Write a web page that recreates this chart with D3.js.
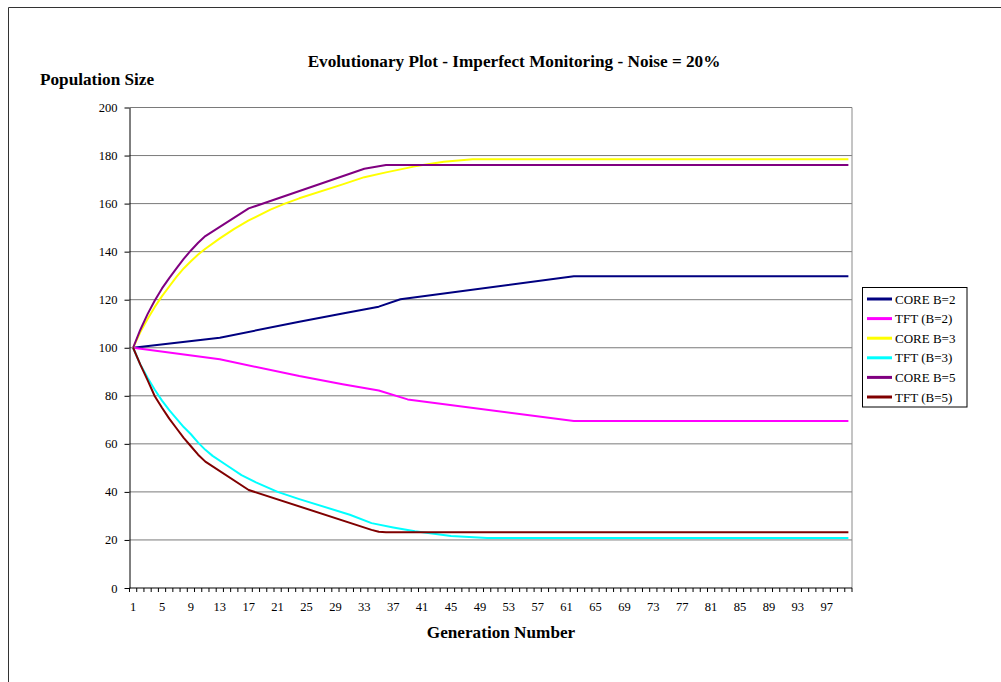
<!DOCTYPE html>
<html>
<head>
<meta charset="utf-8">
<script src="https://cdn.jsdelivr.net/npm/d3@7"></script>
<style>
  body { margin: 0; background: #fff; }
  text { font-family: "Liberation Serif", "Times New Roman", serif; fill: #000; }
</style>
</head>
<body>
<div id="chart"></div>
<script>
/* Evolutionary plot: population size per generation, imperfect monitoring, noise 20% */

const generations = d3.range(1, 101);               // category axis 1..100
const xTickLabels = d3.range(1, 101, 4);            // 1, 5, 9 ... 97
const yTicks = d3.range(0, 201, 20);

const seriesNames = ["CORE B=2", "TFT (B=2)", "CORE B=3", "TFT (B=3)", "CORE B=5", "TFT (B=5)"];
const seriesColors = ["#000080", "#ff00ff", "#ffff00", "#00ffff", "#800080", "#800000"];

// [generation, population]
const coreB2 = [[1,100],[13,104.2],[24,110.8],[30,114.3],[35,117.1],[38,120.2],[62,129.8],[100,129.8]];
const tftB2  = [[1,100],[13,95.2],[24,88.2],[30,84.8],[35,82.2],[39,78.5],[62,69.5],[100,69.5]];
const coreB3 = [[1,100],[2,106.5],[3,112],[4,117],[5,121.5],[6,125.5],[7,129.5],[8,133],[9,136],[10,138.8],
                [11,141.2],[13,145.5],[15,149.5],[17,153],[20,157.5],[22,160],[24,162.2],[30,168],[33,171],
                [36,173],[40,175.5],[44,177.4],[48,178.5],[100,178.5]];
const tftB3  = [[1,100],[2,93],[3,87.5],[4,82.5],[5,78],[6,74],[7,70.5],[8,67],[9,64],[10,60.5],[11,57.5],
                [12,55],[14,51],[16,47],[18,44],[21,40],[24,37],[31,30.5],[34,27],[37,25.2],[40,23.6],
                [45,21.6],[50,20.8],[100,20.8]];
const coreB5 = [[1,100],[2,107.5],[3,114],[4,119.7],[5,124.7],[6,129],[7,133],[8,137],[9,140.5],[10,143.7],
                [11,146.5],[17,158],[33,174.5],[36,176.1],[100,176.1]];
const tftB5  = [[1,100],[2,93],[3,86.5],[4,79.8],[5,75],[6,70.5],[7,66.5],[8,62.5],[9,59],[10,55.5],
                [11,52.6],[17,40.8],[34,24.2],[35,23.4],[36,23.2],[100,23.2]];

const seriesData = [coreB2, tftB2, coreB3, tftB3, coreB5, tftB5];

const width = 1001, height = 682,
    margin = ({ top: 107.5, right: 149, bottom: 94, left: 129.5 });

const svg = d3.select("#chart")
    .append("svg")
    .attr("width", width)
    .attr("height", height)
    .attr("viewBox", [0, 0, width, height]);

/* outer chart border (cut off at the right and bottom) */
svg.append("path")
    .attr("d", `M8.5,${height + 5}V7.5H${width + 5}`)
    .attr("fill", "none")
    .attr("stroke", "#333");

let x = d3.scaleBand()
    .domain(generations)
    .range([margin.left, width - margin.right]);

let xc = d => x(d) + x.bandwidth() / 2;

let y = d3.scaleLinear()
    .domain([0, 200])
    .range([height - margin.bottom, margin.top]);

/* gridlines */
svg.append("g")
    .selectAll("line")
    .data(yTicks.filter(d => d > 0))
    .join("line")
    .attr("x1", margin.left)
    .attr("x2", width - margin.right)
    .attr("y1", d => y(d))
    .attr("y2", d => y(d))
    .attr("stroke", "#7a7a7a");

/* right edge of plot area */
svg.append("line")
    .attr("x1", width - margin.right).attr("x2", width - margin.right)
    .attr("y1", y(200)).attr("y2", y(0))
    .attr("stroke", "#8a8a8a");

/* y axis */
const yAxis = svg.append("g")
    .attr("transform", `translate(${margin.left},0)`)
    .call(d3.axisLeft(y).tickValues(yTicks).tickSize(5).tickSizeOuter(0).tickPadding(7));
yAxis.selectAll("text").style("font-size", "12.5px").style("font-family", "Liberation Serif");
yAxis.select(".domain").attr("stroke", "#000");

/* x axis: ticks between categories */
const xAxisG = svg.append("g")
    .attr("transform", `translate(0,${y(0)})`);
xAxisG.append("line")
    .attr("x1", margin.left).attr("x2", width - margin.right)
    .attr("stroke", "#000");
xAxisG.selectAll(".tick")
    .data(generations.concat([101]))
    .join("line")
    .attr("class", "tick")
    .attr("x1", d => d <= 100 ? x(d) : x(100) + x.bandwidth())
    .attr("x2", d => d <= 100 ? x(d) : x(100) + x.bandwidth())
    .attr("y1", 0).attr("y2", 4)
    .attr("stroke", "#000");
xAxisG.selectAll("text")
    .data(xTickLabels)
    .join("text")
    .attr("x", d => xc(d))
    .attr("y", 23)
    .attr("text-anchor", "middle")
    .style("font-size", "12.5px")
    .text(d => d);

/* lines */
let line = d3.line()
    .x(d => xc(d[0]))
    .y(d => y(d[1]));

svg.append("g")
    .selectAll("path")
    .data(seriesData)
    .join("path")
    .attr("d", line)
    .attr("fill", "none")
    .attr("stroke", (d, i) => seriesColors[i])
    .attr("stroke-width", 2)
    .attr("stroke-linejoin", "round");

/* titles */
svg.append("text")
    .attr("x", 514).attr("y", 67)
    .attr("text-anchor", "middle")
    .style("font-size", "17.2px").style("font-weight", "bold")
    .text("Evolutionary Plot - Imperfect Monitoring - Noise = 20%");

svg.append("text")
    .attr("x", 40).attr("y", 85)
    .style("font-size", "17.2px").style("font-weight", "bold")
    .text("Population Size");

svg.append("text")
    .attr("x", 501).attr("y", 638)
    .attr("text-anchor", "middle")
    .style("font-size", "17.2px").style("font-weight", "bold")
    .text("Generation Number");

/* legend */
const legend = svg.append("g");
legend.append("rect")
    .attr("x", 862.5).attr("y", 287.5)
    .attr("width", 104.5).attr("height", 119.5)
    .attr("fill", "#fff")
    .attr("stroke", "#000");

const items = legend.selectAll(".item")
    .data(seriesNames)
    .join("g")
    .attr("class", "item")
    .attr("transform", (d, i) => `translate(0,${299 + i * 19.6})`);
items.append("line")
    .attr("x1", 867).attr("x2", 892)
    .attr("stroke", (d, i) => seriesColors[i])
    .attr("stroke-width", 3);
items.append("text")
    .attr("x", 895).attr("y", 4.5)
    .style("font-size", "13px")
    .text(d => d);
</script>
</body>
</html>
